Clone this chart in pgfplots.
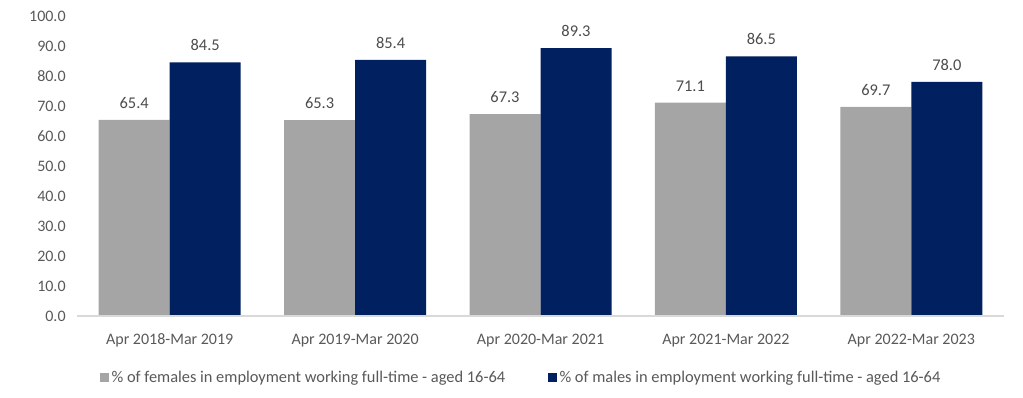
\documentclass[border=0pt]{standalone}
\usepackage{pgfplots}
\pgfplotsset{compat=1.18}
\usepackage{fontspec}
\setmainfont{Carlito}
\definecolor{fgray}{HTML}{A5A5A5}
\definecolor{mnavy}{HTML}{002060}
\definecolor{txt}{HTML}{595959}
\definecolor{axl}{HTML}{D9D9D9}
\begin{document}
\begin{tikzpicture}[x=1pt,y=1pt]
\begin{axis}[
  at={(0,0)}, anchor=south west,
  scale only axis,
  width=695.25pt, height=225pt,
  xmin=-0.5, xmax=4.5,
  ymin=0, ymax=100,
  ytick={0,10,...,100},
  xtick=data,
  xticklabels={Apr 2018-Mar 2019,Apr 2019-Mar 2020,Apr 2020-Mar 2021,Apr 2021-Mar 2022,Apr 2022-Mar 2023},
  ybar=0pt,
  bar width=53.25pt,
  axis x line*=bottom,
  axis y line*=left,
  x axis line style={draw=none},
  y axis line style={draw=none},
  major tick length=0pt,
  tick style={draw=none},
  yticklabel style={/pgf/number format/.cd,fixed,fixed zerofill,precision=1,/tikz/.cd, text=txt, font=\fontsize{12}{14}\selectfont, xshift=-5pt},
  xticklabel style={text=txt, font=\fontsize{12}{14}\selectfont, yshift=-10pt},
  /pgf/number format/assume math mode=true,
  nodes near coords,
  nodes near coords style={/pgf/number format/.cd,fixed,fixed zerofill,precision=1,/tikz/.cd, text=txt!85!black, font=\fontsize{12.3}{14}\selectfont, yshift=5pt},
  every axis plot/.append style={draw=none},
  legend style={draw=none, at={(rel axis cs:0.4795,-0.2067)}, anchor=center, legend columns=2, font=\fontsize{12.3}{14}\selectfont, text=txt, /tikz/every even column/.append style={column sep=30pt}},
  legend image code/.code={\fill[#1] (0pt,-3.1pt) rectangle (6.75pt,3.65pt);},
  clip=false,
]
\addplot[fill=fgray] coordinates {(0,65.4) (1,65.3) (2,67.3) (3,71.1) (4,69.7)};
\addplot[fill=mnavy] coordinates {(0,84.5) (1,85.4) (2,89.3) (3,86.5) (4,78.0)};
\legend{\% of females in employment working full-time - aged 16-64,\% of males in employment working full-time - aged 16-64}
\draw[axl, line width=1.2pt] (rel axis cs:0,0) -- (rel axis cs:1,0);
\end{axis}
\path[use as bounding box] (-57.75pt,-61.5pt) rectangle (709.5pt,237pt);
\end{tikzpicture}
\end{document}
